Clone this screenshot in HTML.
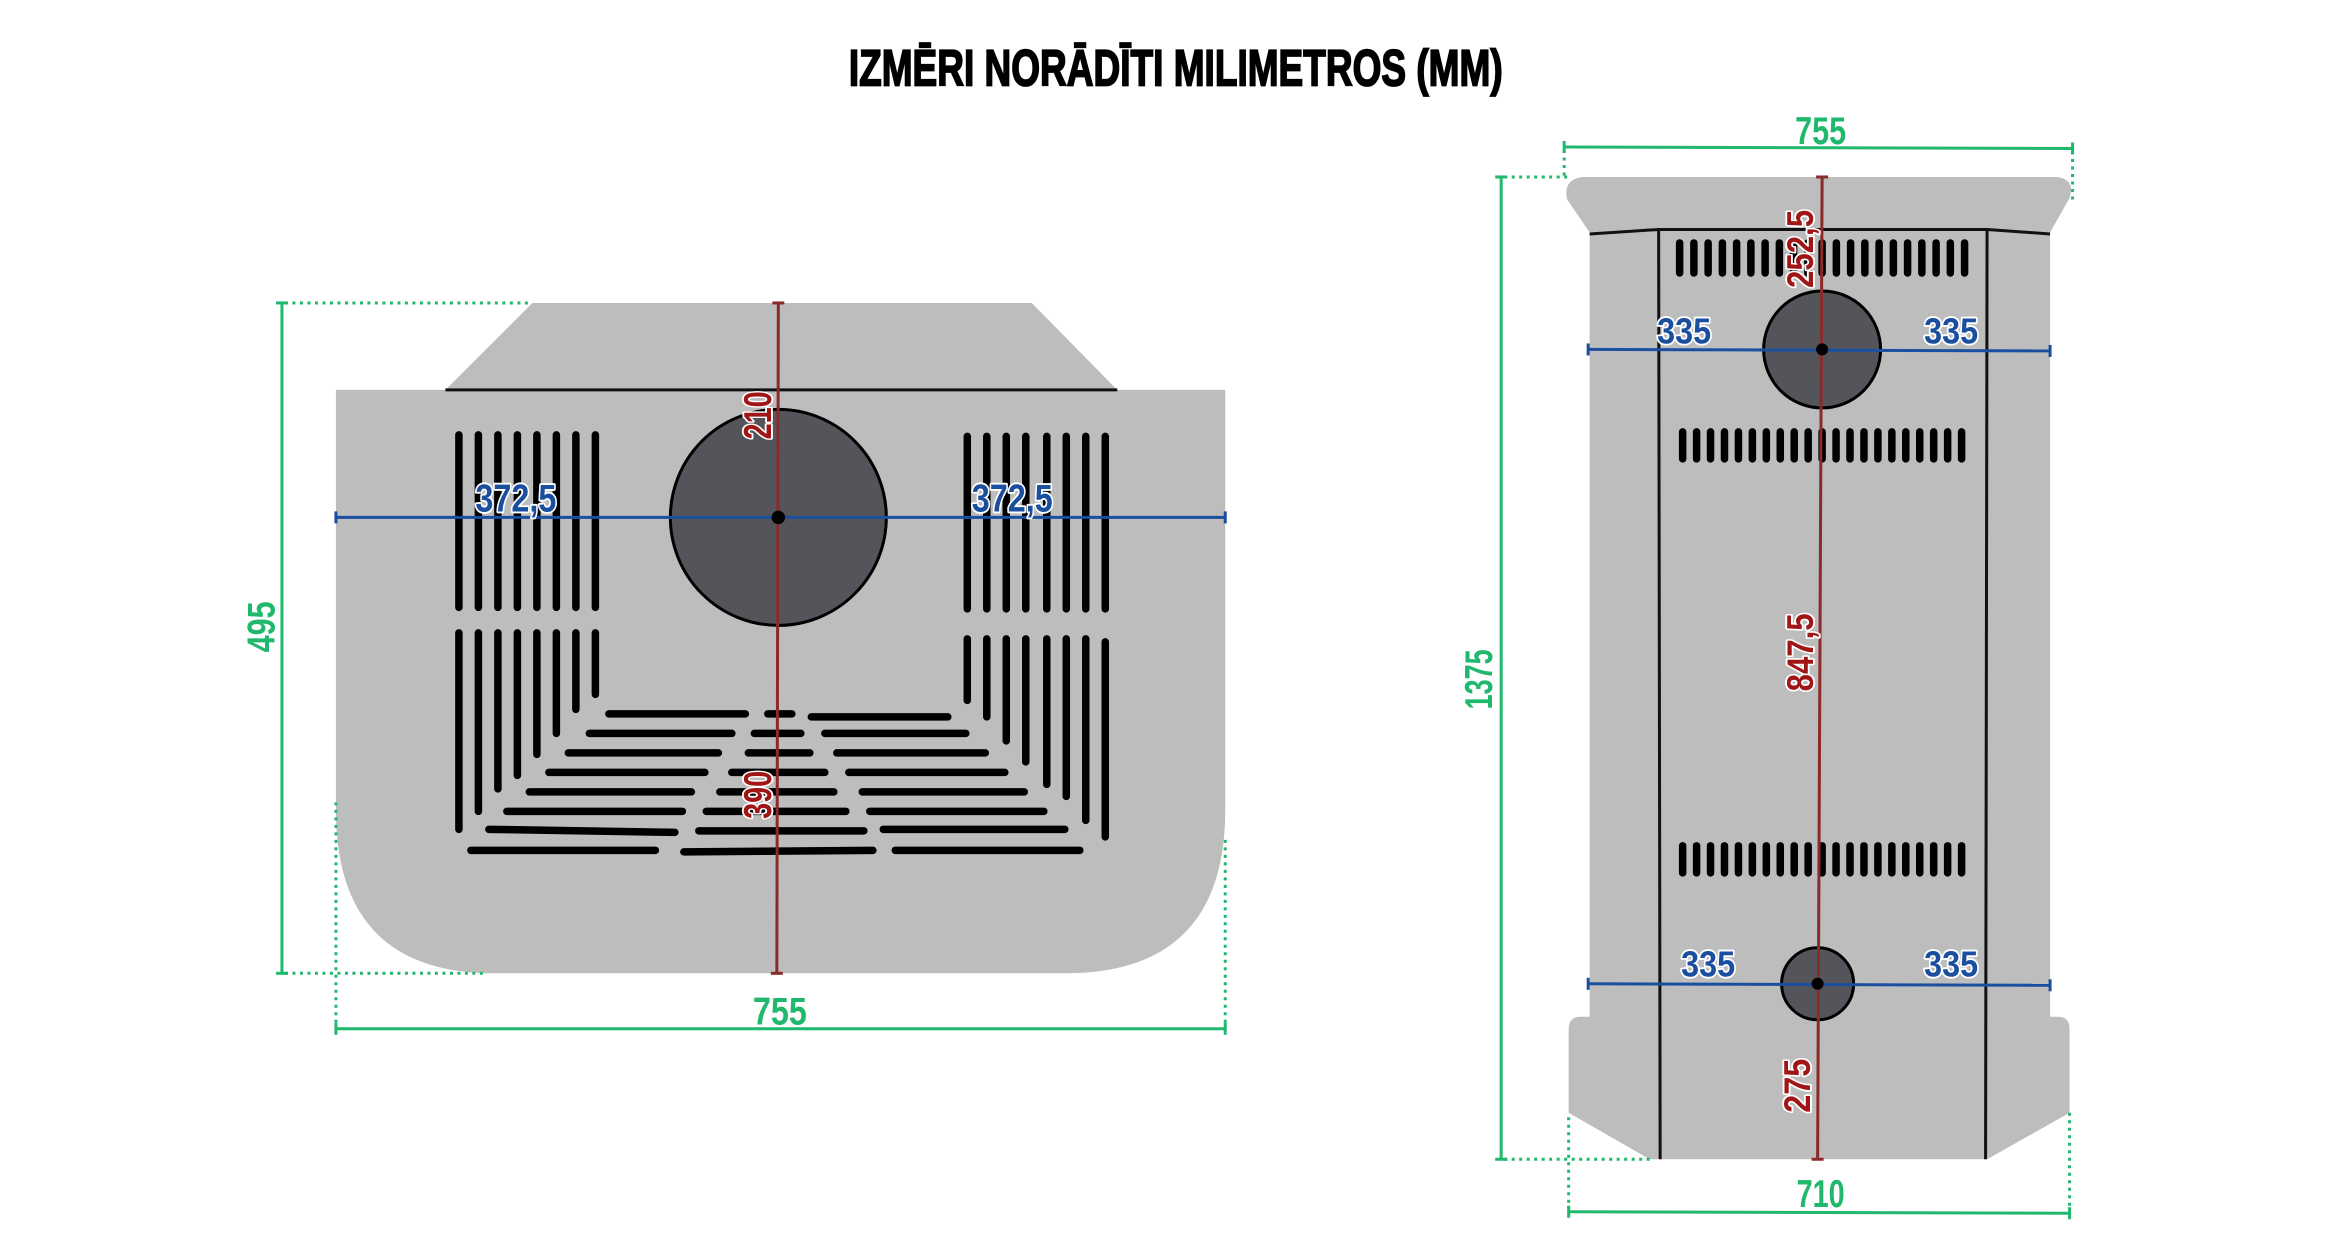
<!DOCTYPE html>
<html><head><meta charset="utf-8"><style>
html,body{margin:0;padding:0;background:#fff;}
svg{display:block;}
text{font-family:"Liberation Sans",sans-serif;font-weight:bold;}
.lb{paint-order:stroke;stroke:#fff;stroke-width:2.5px;stroke-linejoin:round;}
</style></head><body>
<svg width="2344" height="1250" viewBox="0 0 1563 833.5" xmlns="http://www.w3.org/2000/svg">
<rect width="1563" height="834" fill="#fff"/>
<text x="784" y="57" text-anchor="middle" font-size="34" textLength="436" lengthAdjust="spacingAndGlyphs" fill="#000" stroke="#000" stroke-width="1.2">IZMĒRI NORĀDĪTI MILIMETROS (MM)</text>

<!-- LEFT VIEW -->
<polygon points="355,202 688,202 745,260 297,260" fill="#bdbdbd"/>
<path d="M224,260 H817 V540 Q817,649 710,649 H330 Q224,649 224,540 Z" fill="#bdbdbd"/>
<line x1="297" y1="260" x2="745" y2="260" stroke="#111" stroke-width="2"/>
<g stroke="#000" stroke-width="5" stroke-linecap="round">
<line x1="306" y1="290" x2="306" y2="405"/><line x1="319" y1="290" x2="319" y2="405"/><line x1="332" y1="290" x2="332" y2="405"/><line x1="345" y1="290" x2="345" y2="405"/><line x1="358" y1="290" x2="358" y2="405"/><line x1="371" y1="290" x2="371" y2="405"/><line x1="384" y1="290" x2="384" y2="405"/><line x1="397" y1="290" x2="397" y2="405"/>
<line x1="645" y1="291" x2="645" y2="406"/><line x1="658" y1="291" x2="658" y2="406"/><line x1="671" y1="291" x2="671" y2="406"/><line x1="684" y1="291" x2="684" y2="406"/><line x1="698" y1="291" x2="698" y2="406"/><line x1="711" y1="291" x2="711" y2="406"/><line x1="724" y1="291" x2="724" y2="406"/><line x1="737" y1="291" x2="737" y2="406"/>
<line x1="306" y1="422" x2="306" y2="553"/><line x1="319" y1="422" x2="319" y2="541"/><line x1="332" y1="422" x2="332" y2="526"/><line x1="345" y1="422" x2="345" y2="517"/><line x1="358" y1="422" x2="358" y2="503"/><line x1="371" y1="422" x2="371" y2="489"/><line x1="384" y1="422" x2="384" y2="473"/><line x1="397" y1="422" x2="397" y2="463"/>
<line x1="645" y1="426" x2="645" y2="467"/><line x1="658" y1="426" x2="658" y2="478"/><line x1="671" y1="426" x2="671" y2="494"/><line x1="684" y1="426" x2="684" y2="508"/><line x1="698" y1="426" x2="698" y2="523"/><line x1="711" y1="426" x2="711" y2="531"/><line x1="724" y1="426" x2="724" y2="547"/><line x1="737" y1="428" x2="737" y2="558"/>
<line x1="406" y1="476" x2="497" y2="476"/><line x1="512" y1="476" x2="528" y2="476"/><line x1="541" y1="478" x2="632" y2="478"/>
<line x1="393" y1="489" x2="488" y2="489"/><line x1="503" y1="489" x2="534" y2="489"/><line x1="550" y1="489" x2="644" y2="489"/>
<line x1="379" y1="502" x2="479" y2="502"/><line x1="499" y1="502" x2="540" y2="502"/><line x1="558" y1="502" x2="657" y2="502"/>
<line x1="366" y1="515" x2="470" y2="515"/><line x1="488" y1="515" x2="550" y2="515"/><line x1="566" y1="515" x2="670" y2="515"/>
<line x1="353" y1="528" x2="461" y2="528"/><line x1="480" y1="528" x2="556" y2="528"/><line x1="575" y1="528" x2="683" y2="528"/>
<line x1="338" y1="541" x2="455" y2="541"/><line x1="471" y1="541" x2="564" y2="541"/><line x1="580" y1="541" x2="696" y2="541"/>
<line x1="326" y1="553" x2="450" y2="555"/><line x1="466" y1="554" x2="576" y2="554"/><line x1="589" y1="553" x2="710" y2="553"/>
<line x1="314" y1="567" x2="437" y2="567"/><line x1="456" y1="568" x2="582" y2="567"/><line x1="597" y1="567" x2="720" y2="567"/>
</g>
<circle cx="519" cy="345" r="72" fill="#54555a" stroke="#000" stroke-width="2"/>
<line x1="224" y1="345" x2="817" y2="345" stroke="#1a4fa0" stroke-width="2"/>
<line x1="224" y1="341" x2="224" y2="349" stroke="#1a4fa0" stroke-width="2"/>
<line x1="817" y1="341" x2="817" y2="349" stroke="#1a4fa0" stroke-width="2"/>
<line x1="519" y1="202" x2="518" y2="649" stroke="#8b2a2a" stroke-width="2"/>
<line x1="515" y1="202" x2="523" y2="202" stroke="#8b2a2a" stroke-width="2"/>
<line x1="514" y1="649" x2="522" y2="649" stroke="#8b2a2a" stroke-width="2"/>
<circle cx="519" cy="345" r="4.5" fill="#000"/>
<text class="lb" x="344" y="341" text-anchor="middle" font-size="26" textLength="54" lengthAdjust="spacingAndGlyphs" fill="#1a4fa0">372,5</text>
<text class="lb" x="675" y="341" text-anchor="middle" font-size="26" textLength="54" lengthAdjust="spacingAndGlyphs" fill="#1a4fa0">372,5</text>
<text class="lb" transform="translate(514,277) rotate(-90)" text-anchor="middle" font-size="26" textLength="32" lengthAdjust="spacingAndGlyphs" fill="#a01515">210</text>
<text class="lb" transform="translate(514,530) rotate(-90)" text-anchor="middle" font-size="26" textLength="32" lengthAdjust="spacingAndGlyphs" fill="#a01515">390</text>
<g stroke="#1fb86c" fill="none">
<line x1="188" y1="202" x2="188" y2="649" stroke-width="2"/>
<line x1="184" y1="202" x2="192" y2="202" stroke-width="2"/>
<line x1="184" y1="649" x2="192" y2="649" stroke-width="2"/>
<line x1="190" y1="202" x2="355" y2="202" stroke-width="2" stroke-dasharray="2,3"/>
<line x1="190" y1="649" x2="325" y2="649" stroke-width="2" stroke-dasharray="2,3"/>
<line x1="224" y1="686" x2="817" y2="686" stroke-width="2"/>
<line x1="224" y1="682" x2="224" y2="690" stroke-width="2"/>
<line x1="817" y1="682" x2="817" y2="690" stroke-width="2"/>
<line x1="224" y1="535" x2="224" y2="684" stroke-width="2" stroke-dasharray="2,3"/>
<line x1="817" y1="560" x2="817" y2="684" stroke-width="2" stroke-dasharray="2,3"/>
</g>
<text transform="translate(183,418) rotate(-90)" text-anchor="middle" font-size="26" textLength="34" lengthAdjust="spacingAndGlyphs" fill="#1fb86c">495</text>
<text x="520" y="683" text-anchor="middle" font-size="26" textLength="36" lengthAdjust="spacingAndGlyphs" fill="#1fb86c">755</text>

<!-- RIGHT VIEW -->
<path d="M1055,118 H1372 Q1384,120 1380,132 L1367,155 H1060 L1045,133 Q1042,120 1055,118 Z" fill="#bdbdbd"/>
<rect x="1060" y="153" width="307" height="530" fill="#bdbdbd"/>
<path d="M1054,678 H1372 Q1380,678 1380,686 V742 L1325,773 H1100 L1046,742 V686 Q1046,678 1054,678 Z" fill="#bdbdbd"/>
<g stroke="#111" stroke-width="2" fill="none">
<polyline points="1060,156 1106,153 1325,153 1367,156"/>
<line x1="1106" y1="153" x2="1107" y2="773"/>
<line x1="1325" y1="153" x2="1324" y2="773"/>
</g>
<g stroke="#000" stroke-width="5" stroke-linecap="round">
<line x1="1120" y1="162" x2="1120" y2="182"/><line x1="1129.5" y1="162" x2="1129.5" y2="182"/><line x1="1139" y1="162" x2="1139" y2="182"/><line x1="1148.5" y1="162" x2="1148.5" y2="182"/><line x1="1158" y1="162" x2="1158" y2="182"/><line x1="1167.5" y1="162" x2="1167.5" y2="182"/><line x1="1177" y1="162" x2="1177" y2="182"/><line x1="1186.5" y1="162" x2="1186.5" y2="182"/><line x1="1196" y1="162" x2="1196" y2="182"/><line x1="1205.5" y1="162" x2="1205.5" y2="182"/><line x1="1215" y1="162" x2="1215" y2="182"/><line x1="1224.5" y1="162" x2="1224.5" y2="182"/><line x1="1234" y1="162" x2="1234" y2="182"/><line x1="1243.5" y1="162" x2="1243.5" y2="182"/><line x1="1253" y1="162" x2="1253" y2="182"/><line x1="1262.5" y1="162" x2="1262.5" y2="182"/><line x1="1272" y1="162" x2="1272" y2="182"/><line x1="1281.5" y1="162" x2="1281.5" y2="182"/><line x1="1291" y1="162" x2="1291" y2="182"/><line x1="1300.5" y1="162" x2="1300.5" y2="182"/><line x1="1310" y1="162" x2="1310" y2="182"/>
</g>
<g id="row2" stroke="#000" stroke-width="5" stroke-linecap="round">
<line x1="1122" y1="288" x2="1122" y2="306"/><line x1="1131.3" y1="288" x2="1131.3" y2="306"/><line x1="1140.6" y1="288" x2="1140.6" y2="306"/><line x1="1149.9" y1="288" x2="1149.9" y2="306"/><line x1="1159.2" y1="288" x2="1159.2" y2="306"/><line x1="1168.5" y1="288" x2="1168.5" y2="306"/><line x1="1177.8" y1="288" x2="1177.8" y2="306"/><line x1="1187.1" y1="288" x2="1187.1" y2="306"/><line x1="1196.4" y1="288" x2="1196.4" y2="306"/><line x1="1205.7" y1="288" x2="1205.7" y2="306"/><line x1="1215" y1="288" x2="1215" y2="306"/><line x1="1224.3" y1="288" x2="1224.3" y2="306"/><line x1="1233.6" y1="288" x2="1233.6" y2="306"/><line x1="1242.9" y1="288" x2="1242.9" y2="306"/><line x1="1252.2" y1="288" x2="1252.2" y2="306"/><line x1="1261.5" y1="288" x2="1261.5" y2="306"/><line x1="1270.8" y1="288" x2="1270.8" y2="306"/><line x1="1280.1" y1="288" x2="1280.1" y2="306"/><line x1="1289.4" y1="288" x2="1289.4" y2="306"/><line x1="1298.7" y1="288" x2="1298.7" y2="306"/><line x1="1308" y1="288" x2="1308" y2="306"/>
</g>
<use href="#row2" transform="translate(0,276)"/>
<circle cx="1215" cy="233" r="39" fill="#54555a" stroke="#000" stroke-width="2"/>
<circle cx="1212" cy="656" r="24" fill="#54555a" stroke="#000" stroke-width="2"/>
<g stroke="#1a4fa0" stroke-width="2">
<line x1="1059" y1="233" x2="1367" y2="234"/><line x1="1059" y1="229" x2="1059" y2="237"/><line x1="1367" y1="230" x2="1367" y2="238"/>
<line x1="1059" y1="656" x2="1367" y2="657"/><line x1="1059" y1="652" x2="1059" y2="660"/><line x1="1367" y1="653" x2="1367" y2="661"/>
</g>
<line x1="1215" y1="118" x2="1212" y2="773" stroke="#8b2a2a" stroke-width="2"/>
<line x1="1211" y1="118" x2="1219" y2="118" stroke="#8b2a2a" stroke-width="2"/>
<line x1="1208" y1="773" x2="1216" y2="773" stroke="#8b2a2a" stroke-width="2"/>
<circle cx="1215" cy="233" r="4" fill="#000"/>
<circle cx="1212" cy="656" r="4" fill="#000"/>
<text class="lb" x="1123" y="229" text-anchor="middle" font-size="24" textLength="36" lengthAdjust="spacingAndGlyphs" fill="#1a4fa0">335</text>
<text class="lb" x="1301" y="229" text-anchor="middle" font-size="24" textLength="36" lengthAdjust="spacingAndGlyphs" fill="#1a4fa0">335</text>
<text class="lb" x="1139" y="651" text-anchor="middle" font-size="24" textLength="36" lengthAdjust="spacingAndGlyphs" fill="#1a4fa0">335</text>
<text class="lb" x="1301" y="651" text-anchor="middle" font-size="24" textLength="36" lengthAdjust="spacingAndGlyphs" fill="#1a4fa0">335</text>
<text class="lb" transform="translate(1209,166) rotate(-90)" text-anchor="middle" font-size="25" textLength="52" lengthAdjust="spacingAndGlyphs" fill="#a01515">252,5</text>
<text class="lb" transform="translate(1209,435) rotate(-90)" text-anchor="middle" font-size="25" textLength="52" lengthAdjust="spacingAndGlyphs" fill="#a01515">847,5</text>
<text class="lb" transform="translate(1207,724) rotate(-90)" text-anchor="middle" font-size="25" textLength="36" lengthAdjust="spacingAndGlyphs" fill="#a01515">275</text>
<g stroke="#1fb86c" fill="none" stroke-width="2">
<line x1="1001" y1="118" x2="1001" y2="773"/>
<line x1="997" y1="118" x2="1005" y2="118"/><line x1="997" y1="773" x2="1005" y2="773"/>
<line x1="1003" y1="118" x2="1045" y2="118" stroke-dasharray="2,3"/>
<line x1="1003" y1="773" x2="1100" y2="773" stroke-dasharray="2,3"/>
<line x1="1043" y1="98" x2="1382" y2="99"/>
<line x1="1043" y1="94" x2="1043" y2="102"/><line x1="1382" y1="95" x2="1382" y2="103"/>
<line x1="1043" y1="100" x2="1043" y2="118" stroke-dasharray="2,3"/>
<line x1="1382" y1="101" x2="1382" y2="135" stroke-dasharray="2,3"/>
<line x1="1046" y1="808" x2="1380" y2="809"/>
<line x1="1046" y1="804" x2="1046" y2="812"/><line x1="1380" y1="805" x2="1380" y2="813"/>
<line x1="1046" y1="745" x2="1046" y2="806" stroke-dasharray="2,3"/>
<line x1="1380" y1="742" x2="1380" y2="806" stroke-dasharray="2,3"/>
</g>
<text transform="translate(995,453) rotate(-90)" text-anchor="middle" font-size="26" textLength="40" lengthAdjust="spacingAndGlyphs" fill="#1fb86c">1375</text>
<text x="1214" y="96" text-anchor="middle" font-size="26" textLength="34" lengthAdjust="spacingAndGlyphs" fill="#1fb86c">755</text>
<text x="1214" y="805" text-anchor="middle" font-size="26" textLength="32" lengthAdjust="spacingAndGlyphs" fill="#1fb86c">710</text>
</svg>
</body></html>
